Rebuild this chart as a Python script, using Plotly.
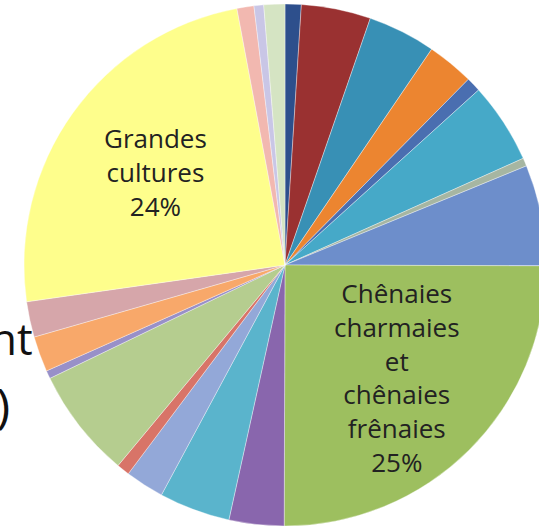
import math
import plotly.graph_objects as go

# Slice data, clockwise from 12 o'clock
labels = [
    "Catégorie 1", "Catégorie 2", "Catégorie 3", "Catégorie 4", "Catégorie 5",
    "Catégorie 6", "Catégorie 7", "Catégorie 8",
    "Chênaies charmaies et chênaies frênaies",
    "Catégorie 10", "Catégorie 11", "Catégorie 12", "Catégorie 13", "Catégorie 14",
    "Catégorie 15", "Catégorie 16", "Catégorie 17",
    "Grandes cultures",
    "Catégorie 19", "Catégorie 20", "Catégorie 21",
]
values = [1.0, 4.3, 4.2, 2.9, 0.9, 5.0, 0.5, 6.25,
          25.0,
          3.4, 4.4, 2.4, 0.8, 6.8, 0.5, 2.2, 2.2,
          24.3,
          1.05, 0.6, 1.3]
# labels drawn on the pie (with their line breaks)
label_lines = {
    "Chênaies charmaies et chênaies frênaies": "Chênaies<br>charmaies<br>et<br>chênaies<br>frênaies",
    "Grandes cultures": "Grandes<br>cultures",
}

colors = ["#2d4f8c", "#9a3131", "#3890b5", "#ec8530", "#4a6eb0", "#46a9c8", "#a6b6a2",
          "#6d8ecb", "#9dbf5f", "#8966ad", "#5ab4cc", "#93a8d8", "#d87468", "#b5cd8f",
          "#9890c8", "#f8a86a", "#d6a6aa", "#fefe8c", "#f2b8b0", "#c9c6e6", "#d5e4c3"]

# Figure is a bit wider than the window so the pie is cut at the right edge, as in the reference
W, H = 560, 528
ml, mr, mt, mb = 24, 14, 4, 2

fig = go.Figure(go.Pie(
    labels=labels,
    values=values,
    sort=False,
    direction="clockwise",
    rotation=0,
    marker=dict(colors=colors, line=dict(color="rgba(255,255,255,0.45)", width=0.8)),
    textinfo="none",
    hovertemplate="%{label}: %{percent}<extra></extra>",
    showlegend=False,
))

# data labels placed along each labelled slice's bisector
total = sum(values)
cum = 0.0
label_r = 0.61
for lab, v in zip(labels, values):
    if lab in label_lines:
        mid = (cum + v / 2) / total * 2 * math.pi
        fig.add_annotation(
            text=f"{label_lines[lab]}<br>{round(v / total * 100)}%",
            x=0.5 + 0.5 * label_r * math.sin(mid),
            y=0.5 + 0.5 * label_r * math.cos(mid),
            xref="paper", yref="paper", xanchor="center", yanchor="middle",
            showarrow=False, align="center",
            font=dict(family="Open Sans", size=26, color="#222222"),
        )
    cum += v

# partially visible text at the left edge
def px_to_paper(px):
    return (px - ml) / (W - ml - mr)

def py_to_paper(py):
    return 1 - (py - mt) / (H - mt - mb)

fig.add_annotation(text="nt", x=px_to_paper(35), y=py_to_paper(338), xref="paper", yref="paper",
                   xanchor="right", yanchor="middle", showarrow=False,
                   font=dict(family="Open Sans", size=44, color="#111111"))
fig.add_annotation(text=")", x=px_to_paper(12), y=py_to_paper(404), xref="paper", yref="paper",
                   xanchor="right", yanchor="middle", showarrow=False,
                   font=dict(family="Open Sans", size=48, color="#111111"))

fig.update_layout(
    width=W, height=H,
    margin=dict(l=ml, r=mr, t=mt, b=mb),
    paper_bgcolor="white",
    plot_bgcolor="white",
)

fig.write_html(
    "out.html",
    config={"displayModeBar": False},
    post_script="document.body.style.margin='0';document.body.style.overflow='hidden';",
)
